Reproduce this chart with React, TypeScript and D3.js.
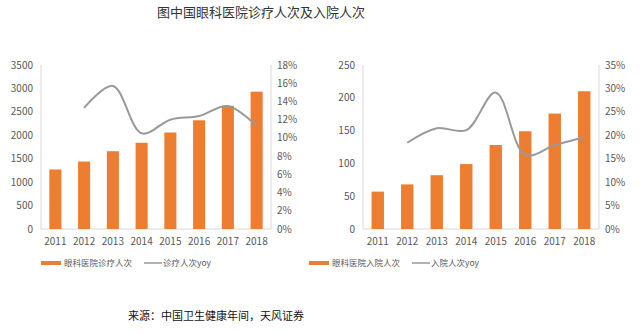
import React from "react";
import * as d3 from "d3";

const years = ["2011", "2012", "2013", "2014", "2015", "2016", "2017", "2018"];
const visits = [1270, 1440, 1660, 1840, 2060, 2320, 2630, 2930];
const visitsYoy = [null, 0.133, 0.157, 0.105, 0.12, 0.124, 0.135, 0.113];
const admissions = [57, 68, 82, 99, 128, 149, 176, 210];
const admissionsYoy = [null, 0.184, 0.215, 0.211, 0.291, 0.158, 0.179, 0.196];
const leftTicks = [0, 500, 1000, 1500, 2000, 2500, 3000, 3500];
const leftPctTicks = [0, 0.02, 0.04, 0.06, 0.08, 0.1, 0.12, 0.14, 0.16, 0.18];
const rightTicks = [0, 50, 100, 150, 200, 250];
const rightPctTicks = [0, 0.05, 0.1, 0.15, 0.2, 0.25, 0.3, 0.35];

const title = "图中国眼科医院诊疗人次及入院人次";
const source = "来源：中国卫生健康年间，天风证券";

const ORANGE = "#ED7D31";
const GREY = "#999999";
const TXT = "#595959";
const AX = "#D9D9D9";
const FONT = "'Noto Sans CJK SC', 'Noto Sans', sans-serif";

type PanelProps = {
  x0: number; x1: number; bars: number[]; yoy: (number | null)[];
  ticks: number[]; pctTicks: number[]; barLabel: string; lineLabel: string;
  legendX: number;
};

function Panel({ x0, x1, bars, yoy, ticks, pctTicks, barLabel, lineLabel, legendX }: PanelProps) {
  const top = 65, bottom = 229;
  const x = d3.scaleBand<string>().domain(years).range([x0, x1]).paddingInner(0.58).paddingOuter(0.29);
  const y = d3.scaleLinear().domain([ticks[0], ticks[ticks.length - 1]]).range([bottom, top]);
  const y2 = d3.scaleLinear().domain([pctTicks[0], pctTicks[pctTicks.length - 1]]).range([bottom, top]);
  const pts = years.map((yr, i) => ({ yr, v: yoy[i] })).filter(d => d.v != null) as { yr: string; v: number }[];
  const line = d3.line<{ yr: string; v: number }>()
    .x(d => (x(d.yr) as number) + x.bandwidth() / 2)
    .y(d => y2(d.v))
    .curve(d3.curveCatmullRom.alpha(0.5));
  return (
    <g fontFamily={FONT}>
      <line x1={x0} x2={x0} y1={top} y2={bottom} stroke={AX} />
      <line x1={x1} x2={x1} y1={top} y2={bottom} stroke={AX} />
      <line x1={x0} x2={x1} y1={bottom} y2={bottom} stroke={AX} />
      {ticks.map(t => (
        <text key={t} x={x0 - 8} y={y(t)} dy="0.35em" textAnchor="end" fontSize={10} fill={TXT}>{t}</text>
      ))}
      {pctTicks.map(t => (
        <text key={t} x={x1 + 6} y={y2(t)} dy="0.35em" textAnchor="start" fontSize={10} fill={TXT}>{Math.round(t * 100)}%</text>
      ))}
      {years.map((yr, i) => (
        <rect key={yr} x={x(yr)} y={y(bars[i])} width={x.bandwidth()} height={bottom - y(bars[i])} fill={ORANGE} />
      ))}
      {years.map(yr => (
        <text key={yr} x={(x(yr) as number) + x.bandwidth() / 2} y={241} dy="0.35em" textAnchor="middle" fontSize={10} fill={TXT}>{yr}</text>
      ))}
      <path d={line(pts) || ""} fill="none" stroke={GREY} strokeWidth={2} />
      <g transform={`translate(${legendX},263)`}>
        <line x1={0} x2={20} y1={0} y2={0} stroke={ORANGE} strokeWidth={4} />
        <text x={23} y={0} dy="0.35em" fontSize={8.5} fill={TXT}>{barLabel}</text>
        <line x1={103} x2={121} y1={0} y2={0} stroke={GREY} strokeWidth={1.5} />
        <text x={122} y={0} dy="0.35em" fontSize={8.5} fill={TXT}>{lineLabel}</text>
      </g>
    </g>
  );
}

export default function App() {
  return (
    <svg width={640} height={332} style={{ position: "absolute", left: 0, top: 0, background: "#fff" }}>
      <rect width={640} height={332} fill="#fff" />
      <text x={157} y={12} dy="0.35em" fontSize={13} fill="#333" fontFamily={FONT}>{title}</text>
      <Panel x0={41} x1={271} bars={visits} yoy={visitsYoy} ticks={leftTicks} pctTicks={leftPctTicks}
        barLabel="眼科医院诊疗人次" lineLabel="诊疗人次yoy" legendX={41} />
      <Panel x0={363} x1={599} bars={admissions} yoy={admissionsYoy} ticks={rightTicks} pctTicks={rightPctTicks}
        barLabel="眼科医院入院人次" lineLabel="入院人次yoy" legendX={309} />
      <text x={128} y={316} dy="0.35em" fontSize={11} fill="#111" fontFamily={FONT}>{source}</text>
    </svg>
  );
}
